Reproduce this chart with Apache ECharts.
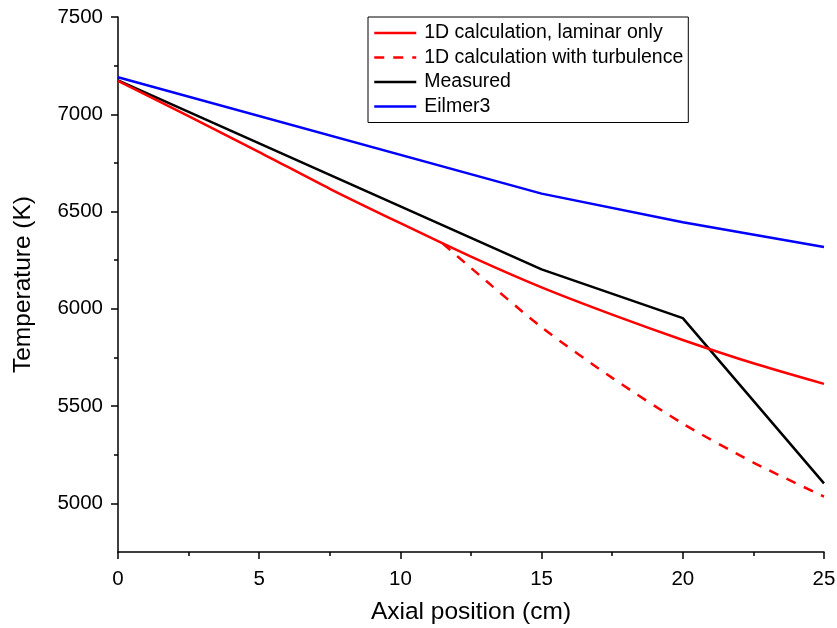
<!DOCTYPE html>
<html>
<head>
<meta charset="utf-8">
<script src="https://cdn.jsdelivr.net/npm/echarts@6/dist/echarts.min.js"></script>
<style>
html,body{margin:0;padding:0;background:#fff;}
#chart{width:837px;height:628px;}
</style>
</head>
<body>
<div id="chart"></div>
<script>
// Data
const seriesNames = ['1D calculation, laminar only', '1D calculation with turbulence', 'Measured', 'Eilmer3'];
const xLaminar = [0, 2.5, 5, 7.5, 10, 12.5, 15, 17.5, 20, 22.5, 25];
const tLaminar = [7172, 6990, 6806, 6617, 6440, 6268, 6110, 5970, 5840, 5720, 5614];
const xTurb = [11.5, 12.5, 15, 17.5, 20, 22.5, 25];
const tTurb = [6335, 6210, 5905, 5645, 5410, 5210, 5035];
const xMeasured = [0, 15, 20, 25];
const tMeasured = [7174, 6203, 5952, 5103];
const xEilmer = [0, 15, 20, 25];
const tEilmer = [7190, 6592, 6445, 6318];
const yMajorTicks = [5000, 5500, 6000, 6500, 7000, 7500];
const yMinorTicks = [5250, 5750, 6250, 6750, 7250];
const xTicks = [0, 5, 10, 15, 20, 25];

const pairs = (xs, ys) => xs.map((x, i) => [x, ys[i]]);
const FONT = '"Liberation Sans", Arial, sans-serif';

const chart = echarts.init(document.getElementById('chart'), null, {renderer: 'canvas'});

const option = {
  backgroundColor: '#ffffff',
  animation: false,
  grid: {left: 118, top: 17, right: 13, bottom: 76, containLabel: false, outerBoundsMode: 'none'},
  legend: {
    orient: 'vertical',
    left: 368,
    top: 17,
    padding: [6, 5, 6, 5],
    borderColor: '#000',
    borderWidth: 1,
    itemWidth: 42,
    itemHeight: 14,
    itemGap: 4.5,
    data: seriesNames,
    itemStyle: {opacity: 0},
    lineStyle: {width: 2.5},
    textStyle: {fontFamily: FONT, fontSize: 19.5, color: '#000', lineHeight: 20, padding: [0, 0, 0, 3]}
  },
  xAxis: {
    type: 'value',
    min: 0,
    max: 25,
    interval: 5,
    name: 'Axial position (cm)',
    nameLocation: 'middle',
    nameGap: 48,
    nameTextStyle: {fontFamily: FONT, fontSize: 24.5, color: '#000'},
    axisLine: {show: true, onZero: false, lineStyle: {color: '#000', width: 1.5}},
    axisTick: {show: true, inside: false, length: 7, lineStyle: {color: '#000', width: 1.5}},
    minorTick: {show: true, splitNumber: 2, length: 4, lineStyle: {color: '#000', width: 1.5}},
    axisLabel: {fontFamily: FONT, fontSize: 20.5, color: '#000', margin: 17, formatter: v => String(v)},
    splitLine: {show: false},
    minorSplitLine: {show: false}
  },
  yAxis: [{
    type: 'value',
    min: 4750,
    max: 7500,
    name: 'Temperature (K)',
    nameLocation: 'middle',
    nameGap: 82,
    nameRotate: 90,
    nameTextStyle: {fontFamily: FONT, fontSize: 24.5, color: '#000'},
    axisLine: {show: true, onZero: false, lineStyle: {color: '#000', width: 1.5}},
    axisTick: {show: true, inside: false, length: 7, customValues: yMajorTicks, lineStyle: {color: '#000', width: 1.5}},
    axisLabel: {fontFamily: FONT, fontSize: 20.5, color: '#000', margin: 15, customValues: yMajorTicks, formatter: v => String(v)},
    splitLine: {show: false}
  }, {
    type: 'value',
    position: 'left',
    min: 4750,
    max: 7500,
    axisLine: {show: false},
    axisTick: {show: true, inside: false, length: 4, customValues: yMinorTicks, lineStyle: {color: '#000', width: 1.5}},
    axisLabel: {show: false},
    splitLine: {show: false}
  }],
  series: [
    {
      name: seriesNames[0], type: 'line', symbol: 'none', smooth: 0.25,
      data: pairs(xLaminar, tLaminar),
      lineStyle: {color: '#ff0000', width: 2.5}, itemStyle: {color: '#ff0000'}, z: 3
    },
    {
      name: seriesNames[1], type: 'line', symbol: 'none', smooth: 0.25,
      data: pairs(xTurb, tTurb),
      lineStyle: {color: '#ff0000', width: 2.5, type: [10, 9]}, itemStyle: {color: '#ff0000'}, z: 3
    },
    {
      name: seriesNames[2], type: 'line', symbol: 'none',
      data: pairs(xMeasured, tMeasured),
      lineStyle: {color: '#000000', width: 2.5}, itemStyle: {color: '#000000'}, z: 2
    },
    {
      name: seriesNames[3], type: 'line', symbol: 'none',
      data: pairs(xEilmer, tEilmer),
      lineStyle: {color: '#0000ff', width: 2.5}, itemStyle: {color: '#0000ff'}, z: 2
    }
  ]
};
chart.setOption(option);
</script>
</body>
</html>
